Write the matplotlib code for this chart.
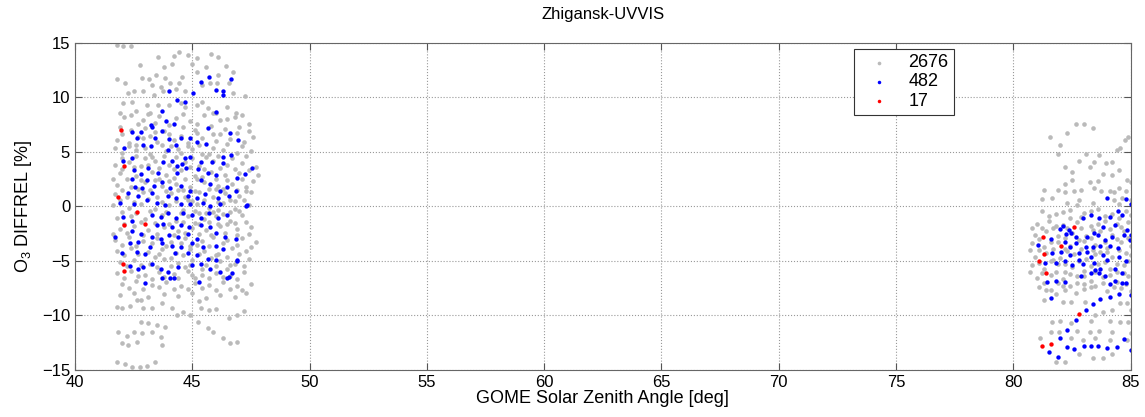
import numpy as np
import matplotlib
matplotlib.use('Agg')
import matplotlib.pyplot as plt

plt.rcParams['font.family'] = ['Liberation Sans', 'DejaVu Sans']
plt.rcParams['mathtext.fontset'] = 'custom'
plt.rcParams['mathtext.rm'] = 'Liberation Sans'

# values (solar zenith angle [deg], O3 difference [%])
gray_left = [
    # top sparse part
    (41.8, 14.8), (42.05, 14.7), (42.4, 14.7), (44.45, 14.2), (44.2, 13.8), (43.55, 13.7),
    (45.8, 14.0), (46.1, 13.7), (45.2, 13.6), (44.8, 13.9), (42.75, 13.0), (44.15, 13.1),
    (43.8, 12.8), (46.45, 12.9), (45.6, 12.8), (45.0, 13.1),
    (41.8, 11.7), (42.15, 11.3), (42.85, 11.8), (43.15, 11.7), (43.45, 12.1), (43.85, 11.8),
    (44.55, 11.9), (45.2, 12.3), (46.75, 12.3), (46.1, 12.1), (43.3, 11.1), (43.65, 11.0),
    (44.05, 11.3), (44.45, 11.3), (45.75, 11.3), (46.05, 11.3), (42.5, 10.6), (42.9, 10.6),
    (42.25, 10.4), (43.35, 10.2), (43.75, 10.55), (44.3, 10.8), (44.7, 10.6), (45.4, 11.1),
    (46.55, 11.3), (46.75, 10.4), (47.25, 10.1), (42.05, 9.45), (42.45, 9.55), (43.05, 9.3),
    (43.55, 9.35), (44.0, 9.3), (44.5, 9.45), (45.4, 9.55), (45.65, 9.0), (46.5, 9.1),
    (46.85, 8.6), (41.9, 8.6), (42.6, 8.8), (43.2, 8.6), (44.7, 9.1), (45.2, 9.3), (46.0, 8.6),
    # dense core
    (42.1, 8.2), (42.9, 7.9), (43.6, 8.3), (44.3, 8.1), (44.9, 7.8), (45.5, 8.4), (46.2, 7.9),
    (46.8, 8.2), (43.1, 8.5), (45.9, 8.6),
    (42.4, 8.4), (43.4, 7.7), (44.6, 8.5), (45.2, 7.6), (46.5, 8.0), (47.1, 8.4),
    (41.9, 7.3), (42.4, 7.0), (43.0, 7.2), (43.8, 6.9), (44.6, 7.3), (45.1, 7.0), (45.8, 7.4),
    (46.4, 7.1), (47.0, 7.3), (47.4, 7.6), (44.0, 7.5), (42.7, 7.6),
    (42.0, 6.6), (42.7, 6.4), (43.4, 6.8), (44.0, 6.6), (44.5, 6.5), (45.2, 6.7), (46.2, 6.6),
    (46.9, 6.7), (47.4, 6.9),
    (41.8, 6.1), (42.3, 5.8), (42.9, 6.3), (43.5, 5.9), (44.2, 6.1), (44.8, 5.8), (45.4, 6.3),
    (46.0, 6.0), (46.6, 6.2), (47.2, 5.9), (43.2, 6.5), (45.9, 6.6), (47.6, 6.4),
    (41.7, 5.4), (42.6, 5.6), (43.0, 5.4), (43.7, 5.6), (44.4, 5.3), (44.8, 5.5), (45.3, 5.6),
    (45.9, 5.4), (46.5, 5.7), (47.1, 5.5),
    (42.0, 4.9), (42.6, 5.2), (43.2, 4.8), (43.9, 5.1), (44.5, 4.9), (45.0, 5.3), (45.7, 4.8),
    (46.3, 5.2), (46.9, 4.9), (47.5, 5.1), (44.1, 5.5), (42.3, 5.5),
    (42.0, 4.4), (42.6, 4.6), (43.3, 4.5), (43.8, 4.6), (44.3, 4.5), (45.0, 4.4), (45.4, 4.8),
    (46.1, 4.6), (46.7, 4.4), (47.3, 4.6),
    (41.7, 3.8), (42.3, 4.1), (42.8, 3.7), (43.4, 4.2), (44.0, 3.8), (44.7, 4.1), (45.3, 3.7),
    (45.9, 4.2), (46.5, 3.8), (47.1, 4.0), (47.7, 3.6), (43.0, 4.4), (45.6, 4.5),
    (42.0, 3.4), (42.5, 3.6), (43.1, 3.8), (43.6, 3.5), (44.2, 3.4), (44.9, 3.6), (45.5, 3.4),
    (46.2, 3.5), (46.8, 3.4), (47.4, 3.3),
    (41.9, 3.1), (42.6, 2.8), (43.3, 3.2), (43.9, 2.9), (44.5, 3.3), (45.1, 2.8), (45.8, 3.2),
    (46.4, 2.9), (47.0, 3.1), (47.8, 2.9), (44.2, 2.6), (42.2, 2.5),
    (41.6, 2.5), (42.8, 2.4), (43.6, 2.5), (44.0, 2.3), (44.7, 2.5), (45.4, 2.7), (46.0, 2.5),
    (46.5, 2.4), (47.1, 2.5), (47.6, 2.3),
    (41.8, 2.0), (42.4, 1.8), (43.0, 2.2), (43.7, 1.9), (44.3, 2.1), (44.9, 1.8), (45.5, 2.2),
    (46.1, 1.9), (46.7, 2.1), (47.3, 1.8), (45.2, 2.5), (43.4, 2.4),
    (42.0, 1.5), (42.7, 1.6), (43.2, 1.5), (43.9, 1.4), (44.6, 1.5), (45.1, 1.4), (45.7, 1.6),
    (46.3, 1.6), (46.9, 1.5), (47.3, 1.4),
    (41.7, 1.1), (42.2, 0.9), (42.9, 1.3), (43.5, 0.9), (44.1, 1.2), (44.7, 0.9), (45.3, 1.3),
    (45.9, 0.9), (46.4, 1.2), (47.0, 1.0), (47.5, 1.3), (44.4, 1.5), (46.0, 1.6),
    (41.9, 0.6), (42.5, 0.4), (43.1, 0.7), (43.7, 0.4), (44.3, 0.5), (44.8, 0.6), (45.5, 0.6),
    (46.1, 0.4), (46.8, 0.5), (47.2, 0.6),
    (41.6, 0.1), (42.3, -0.1), (42.8, 0.2), (43.4, -0.2), (44.0, 0.1), (44.6, -0.3), (45.2, 0.2),
    (45.7, -0.1), (46.3, 0.3), (46.8, -0.2), (47.4, 0.1), (45.0, 0.5), (46.6, 0.6),
    (42.0, -0.5), (42.6, -0.6), (43.2, -0.4), (43.9, -0.5), (44.5, -0.6), (45.1, -0.4),
    (45.6, -0.6), (46.1, -0.3), (46.6, -0.5), (47.0, -0.4),
    (41.8, -1.1), (42.4, -0.9), (43.0, -1.2), (43.7, -0.8), (44.3, -1.3), (44.8, -0.9),
    (45.5, -1.2), (46.0, -0.9), (46.6, -1.3), (47.1, -0.8), (45.3, -0.6), (45.9, -0.5), (46.3, -0.7),
    (42.1, -1.6), (42.8, -1.4), (43.4, -1.5), (44.0, -1.6), (44.6, -1.4), (45.1, -1.5),
    (45.7, -1.4), (46.1, -1.6), (46.8, -1.5), (47.3, -1.4),
    (41.9, -2.1), (42.5, -1.8), (43.1, -2.2), (43.8, -1.9), (44.4, -2.3), (45.0, -2.0),
    (45.6, -2.2), (46.2, -1.8), (46.9, -2.1), (47.5, -1.9), (45.3, -1.6), (46.5, -1.6),
    (41.6, -2.5), (42.2, -2.4), (42.9, -2.6), (43.5, -2.5), (44.2, -2.6), (44.7, -2.4),
    (45.3, -2.5), (45.8, -2.6), (46.4, -2.4), (46.9, -2.6), (47.4, -2.5),
    (41.7, -3.1), (42.3, -2.8), (42.9, -3.2), (43.5, -2.9), (44.1, -3.3), (44.7, -2.9),
    (45.4, -3.2), (45.9, -2.8), (46.5, -3.1), (47.1, -2.9), (47.7, -3.3), (44.9, -3.6),
    (42.0, -3.5), (42.6, -3.6), (43.3, -3.4), (43.9, -3.6), (44.5, -3.4), (45.2, -3.5),
    (45.7, -3.6), (46.3, -3.4), (46.9, -3.5), (47.5, -3.7),
    (41.8, -4.1), (42.4, -3.8), (43.1, -4.2), (43.7, -3.9), (44.3, -4.3), (44.9, -3.9),
    (45.5, -4.1), (46.1, -4.4), (46.7, -3.8), (47.3, -4.1), (43.4, -4.6), (45.8, -4.7),
    (42.1, -4.5), (42.7, -4.4), (43.6, -4.4), (44.1, -4.7), (44.6, -4.5), (45.3, -4.4),
    (46.0, -4.5), (46.5, -4.6), (47.0, -4.4),
    (41.9, -5.1), (42.5, -4.9), (43.2, -5.3), (43.8, -4.8), (44.4, -5.2), (45.0, -4.9),
    (45.6, -5.4), (46.2, -5.0), (46.8, -5.3), (47.4, -4.8), (44.7, -5.6), (46.5, -5.7),
    (42.2, -5.5), (42.8, -5.4), (43.5, -5.6), (44.1, -5.5), (44.9, -5.4), (45.4, -5.7),
    (46.0, -5.5), (46.6, -5.4), (47.2, -5.5),
    (41.8, -6.1), (42.4, -5.9), (43.0, -6.3), (43.6, -6.0), (44.2, -6.2), (44.8, -5.9),
    (45.4, -6.3), (46.0, -6.1), (46.6, -6.4), (47.2, -6.0), (45.1, -6.6), (43.3, -6.7),
    (42.1, -6.6), (42.7, -6.4), (43.8, -6.5), (44.4, -6.6), (45.0, -6.3), (45.7, -6.6),
    (46.3, -6.5), (46.9, -6.7),
    (42.0, -7.1), (42.6, -6.8), (43.3, -7.2), (43.9, -6.9), (44.5, -7.3), (45.1, -7.0),
    (45.7, -7.2), (46.3, -6.9), (46.9, -7.3), (47.5, -7.1), (44.2, -7.6), (46.0, -7.7),
    (42.3, -7.5), (42.9, -7.6), (43.6, -7.4), (44.8, -7.6), (45.4, -7.5), (46.6, -7.6), (47.1, -7.7),
    (41.9, -8.1), (42.5, -7.9), (43.1, -8.3), (43.8, -8.0), (44.4, -8.2), (45.0, -7.9),
    (45.6, -8.4), (46.2, -8.1), (46.8, -8.3), (47.3, -7.9), (42.8, -8.6), (45.3, -8.7),
    # lower sparse part
    (41.8, -9.25), (42.0, -9.35), (42.35, -9.1), (42.65, -8.6), (42.9, -9.35), (43.3, -9.35),
    (43.7, -8.9), (44.15, -9.35), (44.6, -9.7), (44.9, -10.0), (44.35, -10.0), (45.35, -9.35),
    (45.7, -9.5), (46.0, -9.45), (46.55, -10.2), (46.9, -10.0), (47.2, -9.6), (42.8, -10.6),
    (43.1, -10.7), (43.5, -10.9), (43.85, -11.1), (41.85, -11.55), (42.2, -11.85), (42.5, -11.55),
    (42.85, -11.65), (43.3, -11.55), (43.65, -12.0), (45.25, -10.65), (45.65, -11.2),
    (45.9, -11.55), (46.3, -12.1), (46.6, -12.5), (46.9, -12.4), (42.0, -12.55), (42.25, -12.75),
    (42.65, -12.45), (43.7, -12.75), (41.8, -14.3), (42.15, -14.5), (42.45, -14.7),
    (42.75, -14.75), (43.05, -14.6), (43.4, -14.3),
]

gray_right = [
    (82.65, 7.6), (83.0, 7.6), (83.4, 7.15), (82.3, 6.7), (81.55, 6.35), (82.0, 5.6), (84.75, 6.05),
    (84.9, 6.35), (84.55, 5.4), (84.4, 5.15), (81.9, 4.85), (83.1, 4.85), (83.65, 4.7), (82.8, 4.2),
    (83.45, 4.05), (84.2, 4.05), (83.95, 3.95), (82.2, 3.6), (83.25, 3.6), (82.5, 3.2), (84.5, 3.3),
    (83.8, 3.0), (84.2, 2.85), (82.5, 2.4), (82.2, 2.1), (83.25, 2.2), (83.6, 2.3), (84.85, 2.4),
    (85.0, 2.2), (81.3, 1.55), (81.9, 1.55), (82.2, 1.3), (82.6, 1.45), (82.9, 1.55), (83.45, 1.65),
    (83.75, 1.45), (84.1, 1.45), (84.3, 1.3), (84.5, 1.65), (84.8, 1.45), (81.65, 0.8), (81.2, 0.65),
    (82.3, 0.35), (82.8, 0.55), (83.4, 0.35), (84.3, 0.55), (84.65, 0.8), (85.0, 0.55),
    (81.2, -0.4), (81.8, -0.7), (82.4, -0.3), (83.0, -0.6), (83.6, -0.2), (84.2, -0.7), (84.8, -0.4),
    (82.7, 0.1), (84.5, 0.2),
    (81.5, -0.9), (82.1, -0.5), (82.9, -1.0), (83.3, -0.4), (83.9, -0.9), (84.5, -1.1), (85.0, -0.8),
    (81.0, -1.6), (81.5, -1.3), (82.1, -1.7), (82.7, -1.4), (83.3, -1.8), (83.9, -1.3), (84.4, -1.6),
    (84.9, -1.4), (82.4, -1.1),
    (81.2, -2.0), (81.8, -1.8), (82.3, -2.0), (82.9, -2.0), (83.6, -1.6), (84.1, -2.1), (84.6, -1.9),
    (80.9, -2.6), (81.4, -2.3), (81.9, -2.7), (82.5, -2.4), (83.1, -2.7), (83.7, -2.3), (84.2, -2.6),
    (84.7, -2.3), (83.4, -2.2), (81.7, -2.0),
    (81.1, -3.0), (81.6, -3.3), (82.2, -2.9), (82.8, -3.1), (83.3, -2.9), (83.9, -3.3), (84.4, -3.0),
    (84.9, -2.9),
    (80.8, -3.4), (81.3, -3.7), (81.9, -3.3), (82.4, -3.6), (83.0, -3.2), (83.5, -3.5), (84.0, -3.8),
    (84.6, -3.3), (85.0, -3.6), (82.2, -3.9),
    (81.1, -4.0), (81.7, -3.9), (82.3, -4.1), (82.9, -3.9), (83.5, -4.4), (84.0, -4.2), (84.5, -4.0),
    (85.0, -4.5),
    (80.9, -4.6), (81.4, -4.3), (82.0, -4.7), (82.6, -4.4), (83.1, -4.8), (83.7, -4.2), (84.2, -4.6),
    (84.8, -4.3), (81.7, -4.9), (83.4, -4.0),
    (81.1, -5.2), (81.6, -5.0), (82.2, -5.3), (82.8, -5.0), (83.3, -5.5), (83.9, -5.1), (84.4, -5.3),
    (84.9, -5.0),
    (80.8, -5.4), (81.3, -5.7), (81.9, -5.3), (82.5, -5.6), (83.0, -5.9), (83.6, -5.3), (84.1, -5.7),
    (84.7, -5.4), (82.2, -6.0), (84.4, -6.0),
    (81.2, -6.1), (81.8, -6.0), (82.4, -6.2), (83.0, -6.4), (83.5, -6.0), (84.1, -6.3), (84.7, -6.1),
    (81.0, -6.6), (81.6, -6.3), (82.1, -6.7), (82.7, -6.4), (83.3, -6.8), (83.8, -6.5), (84.4, -6.9),
    (84.9, -6.4), (81.9, -7.0), (83.0, -7.1),
    (81.3, -7.0), (82.1, -7.3), (82.7, -7.0), (83.3, -7.4), (83.8, -7.0), (84.3, -7.4), (84.8, -7.1),
    (80.7, -4.0), (80.7, -6.0), (80.8, -2.0),
    (81.1, -7.4), (81.6, -7.7), (82.4, -7.3), (83.0, -7.6), (83.5, -7.3), (84.0, -7.8), (84.6, -7.5),
    (85.0, -7.8),
    (81.4, -7.7), (81.8, -8.0), (82.2, -7.7), (82.65, -7.9), (81.3, -8.6), (82.1, -8.8), (82.45, -8.8),
    (83.05, -8.8), (84.55, -8.9), (84.85, -8.9), (85.0, -9.5), (84.2, -9.5), (83.8, -9.7), (83.5, -10.0),
    (82.0, -10.5), (81.65, -10.6), (82.45, -10.7), (83.3, -10.5), (84.1, -10.5), (84.55, -10.6),
    (84.9, -10.6), (81.6, -11.5), (81.95, -11.55), (82.7, -11.4), (83.25, -11.55), (83.65, -11.4),
    (84.2, -11.55), (85.0, -11.65), (81.15, -12.1), (82.45, -12.1), (82.95, -12.3), (83.5, -12.1),
    (84.1, -12.3), (84.85, -12.3), (82.8, -13.5), (83.4, -13.95), (83.8, -13.95), (82.2, -14.3),
    (84.2, -13.5), (81.8, -14.3),
]

blue_left = [
    (44.0, 10.55), (45.35, 11.45), (45.7, 11.9), (46.65, 11.65), (45.05, 10.4), (44.35, 9.8),
    (44.7, 9.6), (46.0, 10.7), (46.3, 10.6), (46.3, 10.2), (43.7, 8.8), (46.0, 8.7), (43.9, 7.8),
    (44.2, 7.6), (43.25, 7.5),
    (42.45, 6.8), (42.8, 6.8), (43.3, 7.25), (43.7, 6.9), (43.4, 6.3), (44.0, 6.2), (44.5, 6.25),
    (44.9, 6.3), (45.65, 7.15), (45.2, 5.95), (45.6, 5.7), (46.6, 6.7), (46.95, 6.05), (42.1, 5.4),
    (42.65, 6.25), (42.9, 5.6), (43.25, 5.5), (43.95, 5.2), (44.3, 5.6), (44.7, 4.4), (44.9, 4.5),
    (46.3, 4.5), (46.65, 4.7), (42.05, 4.2), (42.45, 4.4), (43.75, 4.1), (44.15, 4.2), (44.35, 3.75),
    (44.55, 3.85), (45.35, 4.05), (45.85, 4.05), (46.3, 3.95), (42.5, 3.3), (42.8, 3.0), (43.1, 3.5),
    (43.55, 3.1), (44.35, 3.1), (44.75, 3.5), (45.25, 3.4), (45.65, 3.1), (46.0, 2.9), (46.9, 2.65),
    (47.25, 2.95), (47.55, 3.5), (42.45, 2.55), (43.05, 2.4), (42.85, 1.65), (42.55, 1.75),
    (43.35, 1.85), (43.7, 2.2), (44.05, 1.65), (44.5, 1.9), (44.9, 1.45), (45.35, 2.4), (45.75, 2.1),
    (46.2, 1.45), (46.5, 1.75), (46.85, 1.45), (42.25, 1.2), (42.7, 1.0), (43.3, 1.2), (43.95, 1.0),
    (44.3, 0.8), (44.8, 1.0), (45.2, 0.8), (45.55, 1.1), (46.1, 0.8), (46.55, 1.0), (41.9, 0.35),
    (42.5, 0.25), (43.05, 0.55), (43.5, 0.35), (43.85, 0.1), (44.5, 0.25), (44.9, 0.2), (45.45, 0.35),
    (45.75, 0.0), (46.2, 0.2), (47.35, 0.1),
    (42.05, -1.0), (42.45, -1.3), (43.3, -0.8), (43.65, -1.0), (43.95, -0.65), (44.3, -1.1),
    (44.6, -0.65), (45.0, -0.8), (45.35, -1.1), (45.7, -0.65), (46.1, -1.1), (46.5, -0.8),
    (43.5, -1.75), (43.75, -1.6), (44.15, -1.9), (44.5, -1.75), (44.85, -1.85), (45.35, -1.75),
    (45.75, -1.9), (41.7, -2.85), (42.45, -2.3), (42.8, -2.5), (43.3, -2.85), (43.65, -2.95),
    (44.0, -2.65), (44.4, -2.85), (44.8, -2.5), (45.2, -2.95), (46.0, -2.4), (46.4, -2.85),
    (46.85, -2.95), (42.35, -3.4), (42.7, -3.3), (43.2, -3.75), (43.7, -3.4), (44.15, -3.6),
    (44.5, -3.75), (45.0, -3.4), (45.45, -3.75), (46.0, -3.6), (46.3, -3.95), (42.0, -4.3),
    (42.65, -4.2), (43.0, -4.4), (44.25, -4.3), (44.8, -4.3), (45.2, -4.5), (45.65, -4.85),
    (46.0, -4.95), (46.9, -4.95), (42.35, -5.5), (42.7, -5.7), (42.9, -5.6), (43.3, -5.25),
    (43.95, -6.05), (44.4, -5.6), (45.0, -5.4), (45.35, -5.25), (45.75, -5.7), (46.2, -6.05),
    (46.55, -6.5), (43.0, -7.05), (43.7, -6.6), (44.05, -6.6), (45.3, -6.95), (43.65, -5.7),
    (44.2, -6.6), (46.5, -6.6), (46.7, -6.15), (46.9, -5.0), (47.3, 0.0),
]

blue_right = [
    (84.0, 0.8), (84.8, 0.7), (85.0, 0.2), (81.6, -8.4), (82.0, -12.1), (81.5, -13.4), (81.9, -13.8),
    (84.5, -8.0), (84.1, -8.3), (83.7, -8.5), (83.4, -9.0), (83.1, -9.5), (82.65, -10.4), (82.3, -11.3),
    (82.3, -12.9), (82.6, -13.1), (83.0, -12.8), (83.3, -12.8), (83.6, -12.8), (84.0, -13.0),
    (84.4, -12.9), (84.7, -12.2), (85.0, -13.2),
    (82.0, -2.1), (82.35, -2.2), (82.95, -1.1), (83.3, -0.8), (83.65, -1.1), (84.1, -1.0),
    (84.45, -0.4), (84.65, -0.8), (84.85, -2.2), (85.0, -2.65), (81.6, -3.0), (81.05, -3.5),
    (82.2, -3.3), (82.45, -2.4), (82.65, -3.4), (82.8, -4.3), (83.1, -3.75), (83.4, -3.75),
    (83.7, -3.6), (83.9, -3.1), (84.2, -2.85), (84.35, -1.75), (83.8, -1.9), (83.45, -2.4),
    (82.1, -1.8), (81.65, -4.3), (82.05, -4.2), (82.4, -4.5), (83.15, -4.2), (83.3, -4.65),
    (83.8, -4.5), (84.0, -4.95), (84.5, -4.65), (84.8, -5.05), (81.35, -5.15), (81.8, -5.15),
    (82.2, -5.05), (82.5, -5.4), (82.95, -5.25), (83.45, -5.15), (83.7, -5.7), (83.9, -6.35),
    (84.35, -5.7), (84.65, -6.15), (81.45, -6.95), (81.8, -6.8), (82.2, -6.95), (82.9, -6.4),
    (83.3, -6.15), (84.35, -6.8), (84.65, -7.05), (84.8, -7.05), (84.1, -7.15), (85.0, -8.15),
    (82.25, -2.55), (82.65, -2.85), (83.15, -2.85), (83.6, -2.65), (84.7, -2.65), (84.95, -3.1),
    (84.1, -3.65), (84.45, -3.85), (82.4, -3.75), (82.8, -4.95), (83.5, -5.85), (83.65, -6.15),
]

red_pts = [
    (41.97, 6.97), (42.1, 3.67), (41.85, 0.9), (42.65, -0.55), (42.1, -1.7), (43.0, -1.6),
    (42.05, -5.3), (42.1, -5.9),
    (82.6, -1.9), (81.28, -2.8), (82.05, -3.6), (81.3, -4.4), (81.1, -5.0), (81.37, -6.1),
    (82.8, -9.9), (81.6, -12.6), (81.2, -12.8),
]

legend_labels = ['2676', '482', '17']
title = 'Zhigansk-UVVIS'

gray = np.array(gray_left + gray_right)
blue = np.array(blue_left + blue_right)
red = np.array(red_pts)

fig = plt.figure(figsize=(11.45, 4.17), dpi=100)
ax = fig.add_axes([0.0655, 0.113, 0.922, 0.784])

ax.scatter(gray[:, 0], gray[:, 1], s=11, color='#bababa', linewidths=0, label=legend_labels[0])
ax.scatter(blue[:, 0], blue[:, 1], s=10, color='#0000ff', linewidths=0, label=legend_labels[1])
ax.scatter(red[:, 0], red[:, 1], s=10, color='#ff0000', linewidths=0, label=legend_labels[2])

ax.set_xlim(40, 85)
ax.set_ylim(-15, 15)
ax.set_xticks(np.arange(40, 86, 5))
ax.set_yticks(np.arange(-15, 16, 5))
ax.grid(True, linestyle=':', color='#999999', linewidth=0.8)
ax.set_axisbelow(True)
ax.tick_params(direction='in', top=True, right=True, labelsize=12, length=5, color='#555555')
for sp in ax.spines.values():
    sp.set_color('#666666')

ax.set_title(title, fontsize=12, pad=17)
ax.set_xlabel('GOME Solar Zenith Angle [deg]', fontsize=13, labelpad=0)
ax.set_ylabel(r'O$_\mathrm{3}$ DIFFREL [%]', fontsize=13, labelpad=6)

leg = ax.legend(loc='upper left', bbox_to_anchor=(0.738, 0.982), fontsize=13, frameon=True,
                fancybox=False, edgecolor='#333333', framealpha=1, markerscale=0.8,
                handletextpad=0.5, borderpad=0.3, labelspacing=0.12, handlelength=2.2,
                borderaxespad=0)
leg.get_frame().set_linewidth(0.8)

fig.savefig('out.png', dpi=100)
